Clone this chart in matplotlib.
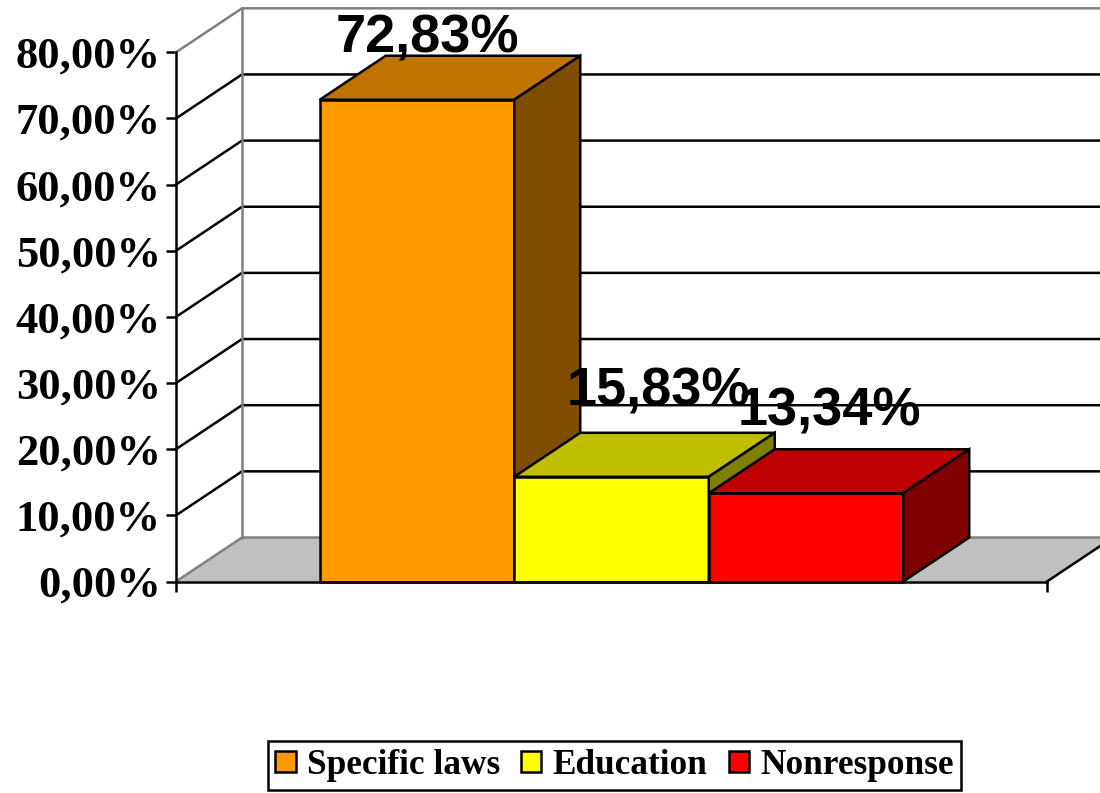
import numpy as np
import matplotlib
matplotlib.use("Agg")
import matplotlib.pyplot as plt
from matplotlib.patches import Polygon, Patch
from matplotlib.ticker import FuncFormatter

categories = ["Specific laws", "Education", "Nonresponse"]
values = [72.83, 15.83, 13.34]
labels = ["72,83%", "15,83%", "13,34%"]
y_ticks = [0, 10, 20, 30, 40, 50, 60, 70, 80]

front_colors = ["#FF9900", "#FFFF00", "#FF0000"]
top_colors = ["#BF7300", "#BFBF00", "#BF0000"]
side_colors = ["#804D00", "#808000", "#800000"]

W, H = 1100, 793
fig = plt.figure(figsize=(W / 100, H / 100), dpi=100, facecolor="white")
L, R, T, B = 176, 1047, 52.3, 581.5
ax = fig.add_axes([L / W, (H - B) / H, (R - L) / W, (B - T) / H])
ax.set_xlim(0, 1)
ax.set_ylim(0, 80)
ax.patch.set_visible(False)

LW = 1.8
DX = 66 / (R - L)
DY = 44 / ((B - T) / 80)
GRAY = "#808080"

# floor
ax.add_patch(Polygon([(0, 0), (1, 0), (1 + DX, DY), (DX, DY)], closed=True,
                     facecolor="#C0C0C0", edgecolor="none", zorder=1, clip_on=False))
ax.plot([0, DX, 1 + DX], [0, DY, DY], color=GRAY, lw=LW, zorder=2, clip_on=False)
ax.plot([1, 1 + DX], [0, DY], color="black", lw=LW, zorder=2, clip_on=False)

# walls and gridlines
for v in y_ticks[1:-1]:
    ax.plot([0, DX, 1 + DX], [v, v + DY, v + DY], color="black", lw=LW, zorder=2, clip_on=False)
ax.plot([0, DX, 1 + DX], [80, 80 + DY, 80 + DY], color=GRAY, lw=LW, zorder=2, clip_on=False)
ax.plot([DX, DX], [DY, 80 + DY], color=GRAY, lw=LW, zorder=2, clip_on=False)

# bars
n = len(values)
bw = 194.5 / (R - L)
x0 = 0.5 - n * bw / 2
for i, v in enumerate(values):
    x = x0 + i * bw
    z = 3 + i
    ax.bar(x, v, width=bw, align="edge", color=front_colors[i], edgecolor="black",
           linewidth=LW, zorder=z, clip_on=False, label=categories[i])
    ax.add_patch(Polygon([(x, v), (x + bw, v), (x + bw + DX, v + DY), (x + DX, v + DY)],
                         closed=True, facecolor=top_colors[i], edgecolor="black",
                         linewidth=LW, zorder=z, clip_on=False))
    ax.add_patch(Polygon([(x + bw, 0), (x + bw + DX, DY), (x + bw + DX, v + DY), (x + bw, v)],
                         closed=True, facecolor=side_colors[i], edgecolor="black",
                         linewidth=LW, zorder=z, clip_on=False))

# value labels
label_shift_px = [(10, 47), (47, 71), (23, 68)]
for i, v in enumerate(values):
    xc = x0 + (i + 0.5) * bw
    ax.annotate(labels[i], xy=(xc, v), xytext=(label_shift_px[i][0] * 0.72, label_shift_px[i][1] * 0.72),
                textcoords="offset points", ha="center", va="baseline",
                fontsize=39, fontweight="bold", family="Liberation Sans", color="black",
                zorder=10, annotation_clip=False)

# axes
for s in ("top", "right"):
    ax.spines[s].set_visible(False)
for s in ("left", "bottom"):
    ax.spines[s].set_linewidth(LW)
    ax.spines[s].set_zorder(8)
ax.set_xticks([0, 1])
ax.set_xticklabels([])
ax.tick_params(axis="x", length=7, width=LW, direction="out", zorder=8)
ax.set_yticks(y_ticks)
ax.yaxis.set_major_formatter(FuncFormatter(lambda v, p: f"{v:.2f}%".replace(".", ",")))
ax.tick_params(axis="y", length=7, width=LW, direction="out", pad=4)
for t in ax.get_yticklabels():
    t.set_fontfamily("Liberation Serif")
    t.set_fontweight("bold")
    t.set_fontsize(32)

# legend
handles = [Patch(facecolor=c, edgecolor="black", linewidth=LW, label=l)
           for c, l in zip(front_colors, categories)]
leg = fig.legend(handles=handles, ncol=3, loc="center",
                 bbox_to_anchor=(614.5 / W, (H - 765.5) / H),
                 prop={"family": "Liberation Serif", "weight": "bold", "size": 25.4},
                 fancybox=False, edgecolor="black", framealpha=1, handlelength=0.57,
                 handleheight=0.57, handletextpad=0.32, columnspacing=0.6,
                 borderpad=0.22, borderaxespad=0)
leg.get_frame().set_linewidth(LW)

fig.savefig("out.png", dpi=100, facecolor="white")
